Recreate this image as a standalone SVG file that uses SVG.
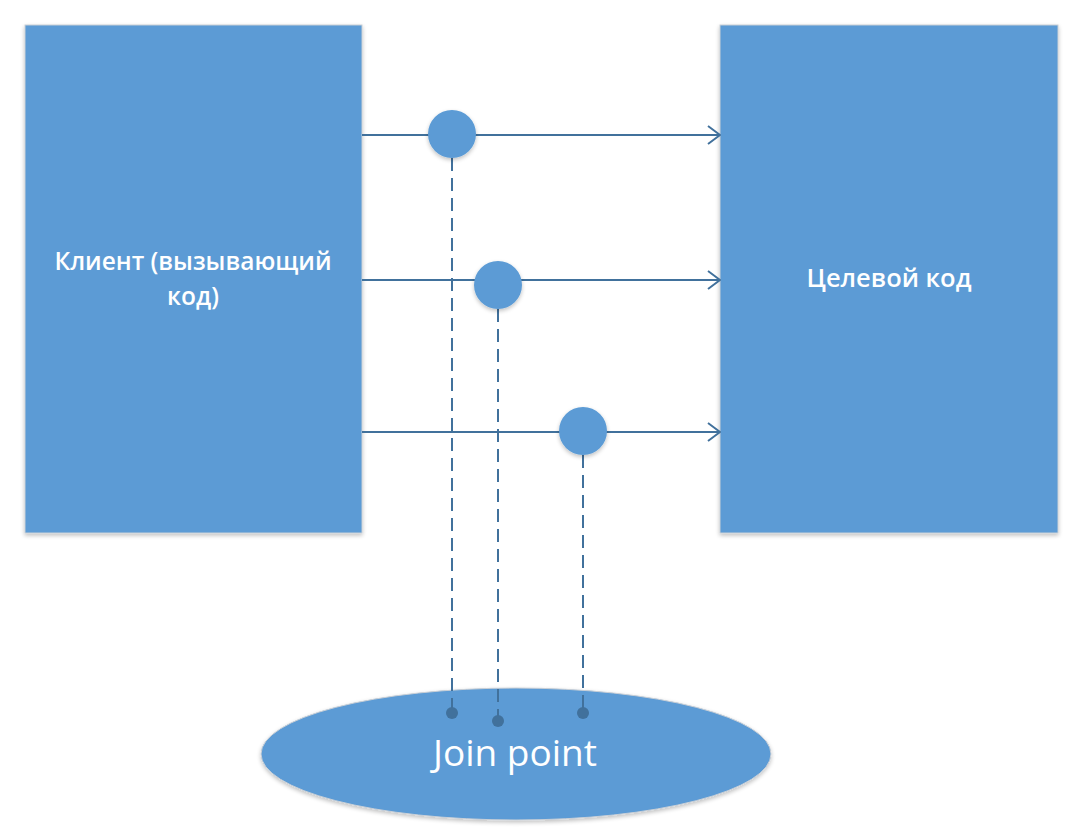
<svg xmlns="http://www.w3.org/2000/svg" width="1089" height="833" viewBox="0 0 1089 833">
<style>
.box{fill:#5B9BD5;stroke:#C9CFD6;stroke-width:1}
.lbl{fill:#fff;font-family:"Open Sans","Noto Sans","DejaVu Sans",sans-serif;text-anchor:middle}
.conn{stroke:#41719C;stroke-width:2;fill:none}
.dash{stroke:#41719C;stroke-width:2;fill:none;stroke-dasharray:13 7}
.jp{fill:#5B9BD5}
.dot{fill:#41719C}
</style>
<defs>
<marker id="arr" viewBox="0 0 14 20" refX="13" refY="10" markerWidth="14" markerHeight="20" markerUnits="userSpaceOnUse" orient="auto">
<path d="M1,1 L13,10 L1,19" fill="none" stroke="#41719C" stroke-width="2"/>
</marker>
<filter id="sh" x="-20%" y="-20%" width="140%" height="140%">
<feGaussianBlur in="SourceAlpha" stdDeviation="2"/>
<feOffset dx="0" dy="2"/>
<feComponentTransfer><feFuncA type="linear" slope="0.25"/></feComponentTransfer>
<feMerge><feMergeNode/><feMergeNode in="SourceGraphic"/></feMerge>
</filter>
</defs>
<rect width="1089" height="833" fill="#fff"/>
<g id="client">
<rect class="box" x="25" y="25" width="337" height="508" filter="url(#sh)"/>
<text class="lbl" font-size="24.5" font-weight="600" x="193" y="270">Клиент (вызывающий</text>
<text class="lbl" font-size="24.5" font-weight="600" x="193" y="305">код)</text>
</g>
<g id="target">
<rect class="box" x="720" y="25" width="338" height="508" filter="url(#sh)"/>
<text class="lbl" font-size="25.5" font-weight="600" x="889" y="287">Целевой код</text>
</g>
<g id="joinpoint">
<ellipse cx="516" cy="754" rx="255" ry="66" class="box" filter="url(#sh)"/>
<text class="lbl" font-size="37" x="515" y="766">Join point</text>
</g>
<g id="connectors">
<line class="conn" x1="362" y1="135" x2="720" y2="135" marker-end="url(#arr)"/>
<line class="conn" x1="362" y1="280" x2="720" y2="280" marker-end="url(#arr)"/>
<line class="conn" x1="362" y1="432" x2="720" y2="432" marker-end="url(#arr)"/>
<line class="dash" x1="452" y1="158" x2="452" y2="713"/>
<line class="dash" x1="498" y1="309" x2="498" y2="721"/>
<line class="dash" x1="583" y1="455" x2="583" y2="713"/>
<circle class="dot" cx="452" cy="713" r="6"/>
<circle class="dot" cx="498" cy="721" r="6"/>
<circle class="dot" cx="583" cy="713" r="6"/>
</g>
<g id="pc1"><circle cx="452" cy="134" r="24" class="jp" filter="url(#sh)"/></g>
<g id="pc2"><circle cx="498" cy="285" r="24" class="jp" filter="url(#sh)"/></g>
<g id="pc3"><circle cx="583" cy="431" r="24" class="jp" filter="url(#sh)"/></g>
</svg>
